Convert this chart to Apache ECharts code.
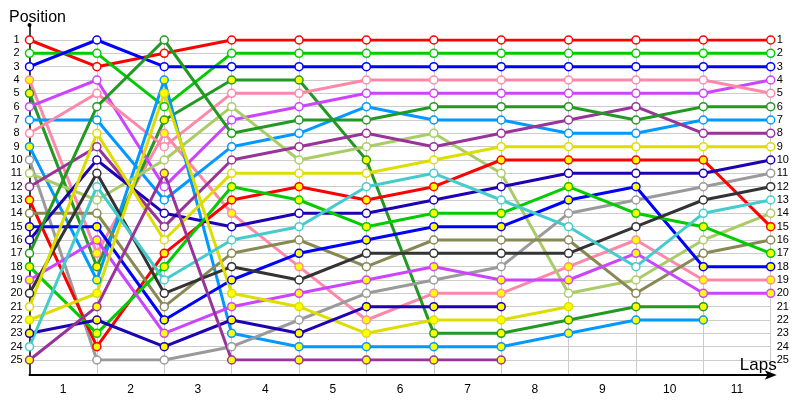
<!DOCTYPE html>
<html><head><meta charset="utf-8">
<script src="https://cdn.jsdelivr.net/npm/echarts@6/dist/echarts.min.js"></script>
<style>html,body{margin:0;padding:0;background:#fff}#c{width:800px;height:400px}</style>
</head><body><div id="c"></div>
<script>
// Lap labels (x axis) and position ticks (y axis)
const lapLabels = ['1','2','3','4','5','6','7','8','9','10','11'];
const positionTicks = [1,2,3,4,5,6,7,8,9,10,11,12,13,14,15,16,17,18,19,20,21,22,23,24,25];

// Position of each car after each lap (index 0 = start grid)
const car01 = [1,3,2,1,1,1,1,1,1,1,1,1];
const car02 = [2,2,6,2,2,2,2,2,2,2,2,2];
const car03 = [3,1,3,3,3,3,3,3,3,3,3,3];
const car04 = [4,17,8,14,18,22,20,20,18,16,19,19];
const car05 = [5,18,7,4,4,10,23,23,22,21,21];
const car06 = [6,4,12,7,6,5,5,5,5,5,5,4];
const car07 = [7,7,13,9,8,6,7,7,8,8,7,7];
const car08 = [8,5,9,5,5,4,4,4,4,4,4,5];
const car09 = [9,19,4,23,24,24,24,24,23,22,22];
const car10 = [10,25,25,24,22,20,19,18,14,13,12,11];
const car11 = [11,13,10,6,10,9,8,11,20,19,16,14];
const car12 = [12,9,15,10,9,8,9,8,7,6,8,8];
const car13 = [13,24,17,13,12,13,12,10,10,10,10,15];
const car14 = [14,14,21,17,16,18,16,16,16,20,17,16];
const car15 = [15,15,22,19,17,16,15,15,13,12,18,18];
const car16 = [16,10,14,15,14,14,13,12,11,11,11,10];
const car17 = [17,6,1,8,7,7,6,6,6,7,6,6];
const car18 = [18,23,18,12,13,15,14,14,12,14,15,17];
const car19 = [19,16,23,21,20,19,18,19,19,17,20,20];
const car20 = [20,11,20,18,19,17,17,17,17,15,13,12];
const car21 = [21,8,16,11,11,11,10,9,9,9,9,9];
const car22 = [22,20,5,20,21,23,22,22,21];
const car23 = [23,22,24,22,23,21,21,21];
const car24 = [24,12,19,16,15,12,11,13,15,18,14,13];
const car25 = [25,21,11,25,25,25,25,25];

// Cars drawn with a filled (yellow) marker
const filledCars = [4,5,9,13,15,18,19,22,23,25];

const cars = [car01,car02,car03,car04,car05,car06,car07,car08,car09,car10,car11,car12,car13,
  car14,car15,car16,car17,car18,car19,car20,car21,car22,car23,car24,car25];

const RED='#ff0000',GRN='#00cc00',BLU='#0000ff',PNK='#ff88aa',DGR='#229922',MAG='#cc44ff',
  LBL='#0099ff',GRY='#9a9a9a',LOL='#aacc66',VIO='#993399',OLV='#888855',NAV='#1f00b3',
  DGY='#333333',CYN='#44cccc',YEL='#dddd00';
const colors = [RED,GRN,BLU,PNK,DGR,MAG,LBL,PNK,LBL,GRY,LOL,VIO,RED,OLV,BLU,NAV,DGR,GRN,MAG,DGY,YEL,YEL,NAV,CYN,VIO];

const FONT = 'Liberation Sans';
const L = 29.5, R = 29.3;

const series = cars.map((arr, i) => {
  const filled = filledCars.includes(i + 1);
  return {
    type: 'line',
    xAxisIndex: 1, yAxisIndex: 1,
    data: arr.map((p, lap) => [lap, p]),
    symbol: 'circle', symbolSize: 8, showSymbol: true,
    lineStyle: { color: colors[i], width: 3 },
    itemStyle: { color: filled ? '#ffff00' : '#ffffff', borderColor: colors[i], borderWidth: 1.5 },
    z: 3
  };
});

const chart = echarts.init(document.getElementById('c'), null, { renderer: 'canvas' });
chart.setOption({
  animation: false,
  backgroundColor: '#ffffff',
  title: { text: 'Position', left: 4, top: 5,
    textStyle: { fontFamily: FONT, fontSize: 16, fontWeight: 'normal', color: '#000' } },
  grid: [
    { left: L, right: R, top: 25, bottom: 25 },   // frame
    { left: L, right: R, top: 40, bottom: 40 },   // data
    { left: L, right: R, top: 40, bottom: 25 }    // vertical grid lines
  ],
  xAxis: [
    { gridIndex: 0, type: 'category', data: lapLabels, boundaryGap: true,
      axisLine: { show: true, lineStyle: { color: '#000', width: 2 }, symbol: ['none', 'arrow'], symbolSize: [7, 12], symbolOffset: [0, 6] },
      axisTick: { show: false }, splitLine: { show: false },
      axisLabel: { color: '#000', fontFamily: FONT, fontSize: 12, margin: 9 },
      name: 'Laps', nameLocation: 'end', nameGap: 6,
      nameTextStyle: { fontFamily: FONT, fontSize: 17, color: '#000', align: 'right', verticalAlign: 'bottom', padding: [0, 0, 1, 0] } },
    { gridIndex: 1, type: 'value', min: 0, max: 11, interval: 1, show: false },
    { gridIndex: 2, type: 'value', min: 0, max: 11, interval: 1,
      axisLine: { show: false }, axisTick: { show: false }, axisLabel: { show: false },
      splitLine: { show: true, lineStyle: { color: '#cccccc', width: 1 } } }
  ],
  yAxis: [
    { gridIndex: 0, type: 'value', min: 0, max: 1,
      axisLine: { show: true, lineStyle: { color: '#000', width: 1.5 }, symbol: ['none', 'circle'], symbolSize: [4, 4] },
      axisTick: { show: false }, axisLabel: { show: false }, splitLine: { show: false } },
    { gridIndex: 1, type: 'value', min: 1, max: 25, interval: 1, inverse: true,
      axisLine: { show: false }, axisTick: { show: false },
      axisLabel: { color: '#000', fontFamily: FONT, fontSize: 11, margin: 13, align: 'center' },
      splitLine: { show: true, lineStyle: { color: '#cccccc', width: 1 } } },
    { gridIndex: 1, type: 'value', min: 1, max: 25, interval: 1, inverse: true, position: 'right',
      axisLine: { show: false }, axisTick: { show: false },
      axisLabel: { color: '#000', fontFamily: FONT, fontSize: 11, margin: 6, align: 'left' },
      splitLine: { show: false } },
    { gridIndex: 2, type: 'value', min: 0, max: 1, show: false }
  ],
  series: series
});
</script>
</body></html>
